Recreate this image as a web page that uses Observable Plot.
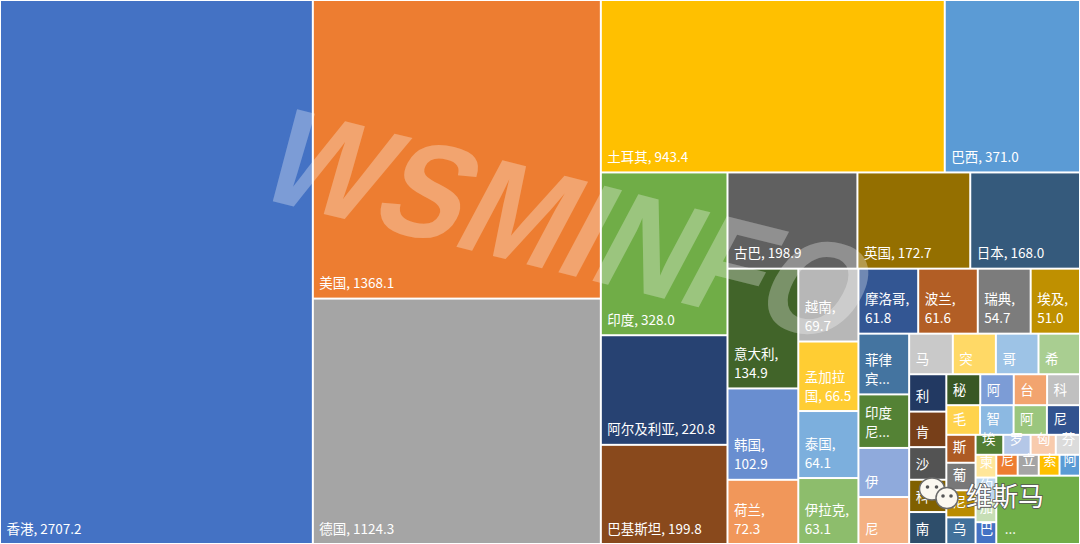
<!DOCTYPE html>
<html>
<head>
<meta charset="utf-8">
<script src="https://cdn.jsdelivr.net/npm/d3@7"></script>
<script src="https://cdn.jsdelivr.net/npm/@observablehq/plot@0.6"></script>
<style>
  html, body { margin: 0; padding: 0; background: #fff; }
  #chart { width: 1080px; height: 544px; overflow: hidden; }
</style>
</head>
<body>
<div id="chart"></div>
<script>
// Trade value by destination, largest first; the remainder cell comes last.
const names = ["香港","美国","德国","土耳其","巴西","印度","阿尔及利亚","巴基斯坦","古巴","英国","日本","意大利",
  "韩国","荷兰","越南","孟加拉国","泰国","伊拉克","摩洛哥","波兰","瑞典","埃及","菲律宾","印度尼西亚",
  "伊朗","尼日利亚","马来西亚","突尼斯","哥伦比亚","希腊","利比亚","肯尼亚","沙特阿拉伯","科特迪瓦","南非","秘鲁",
  "阿根廷","台湾","科威特","毛里求斯","智利","阿联酋","尼泊尔","斯里兰卡","葡萄牙","尼日尔","乌克兰","埃塞俄比亚",
  "罗马尼亚","匈牙利","芬兰","柬埔寨","约旦","加纳","巴拿马","尼加拉瓜","立陶宛","索马里","阿曼","其他"];
const values = [2707.2,1368.1,1124.3,943.4,371.0,328.0,220.8,199.8,198.9,172.7,168.0,134.9,
  102.9,72.3,69.7,66.5,64.1,63.1,61.8,61.6,54.7,51.0,49.0,43.2,
  39.6,37.9,28.2,27.8,27.5,26.8,22.1,21.0,19.3,19.1,18.9,16.7,
  16.5,16.4,16.2,15.9,15.8,15.7,15.6,13.0,12.8,12.6,12.4,8.8,
  8.7,8.0,7.7,7.5,7.4,7.3,7.2,7.1,7.0,6.9,6.8,91.0];
const otherName = "其他";

const W = 1080, H = 544;

// Office theme accents, cycled; each pass of six uses a darker or lighter variant
const accents = ["#4472C4", "#ED7D31", "#A5A5A5", "#FFC000", "#5B9BD5", "#70AD47"];
const variants = [0, -0.42, 0.2, -0.25, 0.4, -0.5, 0.3, -0.27, 0.6, 0];
const vary = (c, t) => t < 0 ? d3.interpolateRgb(c, "#000")(-t) : d3.interpolateRgb(c, "#fff")(t);
const colorAt = i => vary(accents[i % 6], variants[Math.floor(i / 6) % variants.length]);

// Squarified tiling: rows run along the shorter side; a row keeps growing
// while the newest cell in it gets closer to square.
function tileSquare(parent, x0, y0, x1, y1) {
  const nodes = parent.children;
  let value = parent.value, i0 = 0;
  while (i0 < nodes.length) {
    const dx = x1 - x0, dy = y1 - y0;
    const side = Math.min(dx, dy), long = Math.max(dx, dy);
    const aspect = (sum, v) => {
      const thick = sum / value * long, len = v / sum * side;
      return Math.max(thick / len, len / thick);
    };
    let sum = nodes[i0].value, i1 = i0 + 1;
    let best = aspect(sum, nodes[i0].value);
    while (i1 < nodes.length) {
      const v = nodes[i1].value, r = aspect(sum + v, v);
      if (r > best) break;
      best = r; sum += v; i1++;
    }
    const row = {value: sum, children: nodes.slice(i0, i1)};
    if (dx < dy) { const yb = i1 < nodes.length ? y0 + dy * sum / value : y1; d3.treemapDice(row, x0, y0, x1, yb); y0 = yb; }
    else { const xb = i1 < nodes.length ? x0 + dx * sum / value : x1; d3.treemapSlice(row, x0, y0, xb, y1); x0 = xb; }
    value -= sum; i0 = i1;
  }
}

const table = names.map((name, i) => ({name, value: values[i], index: i}));
const root = d3.hierarchy({children: table}).sum(d => d.value ?? 0);
d3.treemap().tile(tileSquare).size([W, H])(root);
const cells = root.leaves().map(n => ({...n.data, x0: n.x0, x1: n.x1, y0: n.y0, y1: n.y1, fill: colorAt(n.data.index)}));

// Label wrapping in the style of a spreadsheet treemap: "name, value", bottom-left
const FONT = 13.5, LINE = 19, PADX = 6, PADY = 11;
const FAMILY = "'Noto Sans CJK SC', 'Noto Sans', sans-serif";
const ctx = document.createElement("canvas").getContext("2d");
ctx.font = `${FONT}px ${FAMILY}`;
const tw = s => ctx.measureText(s).width;

function layoutLabel(d) {
  const cw = d.x1 - d.x0, ch = d.y1 - d.y0;
  if (d.name === otherName) return {text: "...", pad: PADX + 2};
  const avail = cw - 12;
  const units = [...d.name];
  units[units.length - 1] += ",";
  units.push(" " + d.value.toFixed(1));
  const lines = [];
  let cur = "";
  for (const u of units) {
    const t = cur + u;
    if (cur && tw(t) > avail) { lines.push(cur); cur = u.trimStart(); }
    else cur = cur ? t : u.trimStart();
  }
  lines.push(cur);
  const maxLines = Math.floor((ch - 14) / LINE);
  if (lines.length <= Math.max(1, maxLines) && tw(lines[0]) <= avail) return {text: lines.join("\n"), pad: PADX};
  if (maxLines >= 2) {
    const kept = lines.slice(0, maxLines);
    let last = kept[maxLines - 1].replace(/,$/, "");
    while ([...last].length > 1 && tw(last + "...") > avail - 4) last = [...last].slice(0, -1).join("");
    kept[maxLines - 1] = last + "...";
    return {text: kept.join("\n"), pad: PADX};
  }
  const first = [...d.name][0];
  return {text: first, pad: Math.max(1, Math.min(PADX, (cw - tw(first)) / 2))};
}
cells.forEach(d => { const l = layoutLabel(d); d.label = l.text; d.pad = l.pad; });

const chart = Plot.plot({
  width: W,
  height: H,
  margin: 0,
  x: {domain: [0, W], range: [0, W], axis: null},
  y: {domain: [0, H], range: [0, H], axis: null},
  style: {background: "#fff"},
  marks: [
    Plot.rect(cells, {x1: "x0", x2: "x1", y1: "y0", y2: "y1", fill: "fill", inset: 1}),
    Plot.text(cells, {
      x: "x0", y: "y1", text: "label",
      textAnchor: "start", lineAnchor: "bottom",
      fill: "#fff", fontSize: FONT, fontFamily: FAMILY, lineHeight: LINE / FONT
    })
  ]
});

// per-cell horizontal padding and bottom padding
d3.select(chart).selectAll("g[aria-label=text] text").each(function(_, i) {
  const d = cells[i];
  const tr = this.getAttribute("transform") || "";
  const m = /translate\(([-\d.]+),([-\d.]+)\)/.exec(tr);
  if (m) this.setAttribute("transform", `translate(${+m[1] + d.pad},${+m[2] - PADY})`);
});

// watermark and signature
const svg = d3.select(chart);
const wm = svg.append("g").attr("pointer-events", "none");
wm.append("text")
  .attr("transform", "translate(570,226) rotate(14) skewX(-14)")
  .attr("text-anchor", "middle")
  .attr("dominant-baseline", "central")
  .attr("font-family", "'Liberation Sans', Arial, sans-serif")
  .attr("font-weight", "bold")
  .attr("font-size", 138)
  .attr("textLength", 610)
  .attr("lengthAdjust", "spacingAndGlyphs")
  .attr("fill", "#fff")
  .attr("fill-opacity", 0.3)
  .text("WSMINFO");

const sig = svg.append("g").attr("pointer-events", "none");
const bubble = (cx, cy, rx, ry, e) => {
  sig.append("ellipse").attr("cx", cx).attr("cy", cy).attr("rx", rx).attr("ry", ry)
    .attr("fill", "#fbf8f0").attr("stroke", "#6b6b6b").attr("stroke-width", 1.5);
  sig.append("circle").attr("cx", cx - e).attr("cy", cy - 2).attr("r", 1.8).attr("fill", "#555");
  sig.append("circle").attr("cx", cx + e).attr("cy", cy - 2).attr("r", 1.8).attr("fill", "#555");
};
bubble(932, 489, 12.5, 11, 4.5);
bubble(947, 498, 11, 10.5, 4);
sig.append("text").attr("x", 966).attr("y", 506)
  .attr("text-anchor", "start")
  .attr("font-family", FAMILY).attr("font-size", 26)
  .attr("fill", "#fff").attr("stroke", "#555").attr("stroke-width", 1.6)
  .attr("paint-order", "stroke")
  .text("维斯马");

document.getElementById("chart").append(chart);
</script>
</body>
</html>
